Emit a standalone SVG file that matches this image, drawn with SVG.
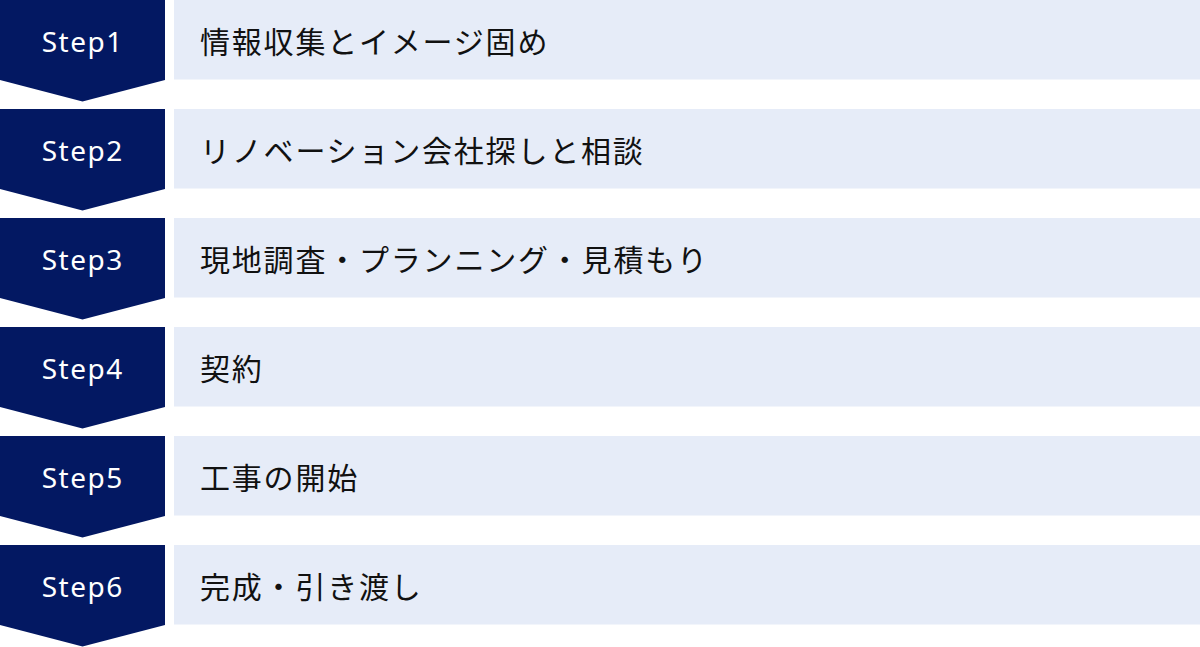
<svg xmlns="http://www.w3.org/2000/svg" width="1200" height="647" viewBox="0 0 1200 647">
<style>
.chev{fill:#031862}
.box{fill:#e6ecf8}
.lbl{font-family:"Noto Sans","DejaVu Sans",sans-serif;font-size:28px;letter-spacing:1.5px;fill:#ffffff;text-anchor:middle}
.txt{font-family:"Noto Sans CJK JP","Noto Sans",sans-serif;font-size:30px;letter-spacing:1.8px;fill:#111111}
</style>
<defs>
<path id="chevShape" d="M0,0 H165 V80 L82.5,101.5 L0,80 Z"/>
</defs>
<rect width="1200" height="647" fill="#ffffff"/>
<g id="connectors"></g>
<g id="step1" transform="translate(0,0)">
<use href="#chevShape" class="chev"/>
<rect class="box" x="174" y="0" width="1026" height="79.5"/>
<text class="lbl" x="82.75" y="51.5">Step1</text>
<text class="txt" x="200" y="53">情報収集とイメージ固め</text>
</g>
<g id="step2" transform="translate(0,109)">
<use href="#chevShape" class="chev"/>
<rect class="box" x="174" y="0" width="1026" height="79.5"/>
<text class="lbl" x="82.75" y="51.5">Step2</text>
<text class="txt" x="200" y="53">リノベーション会社探しと相談</text>
</g>
<g id="step3" transform="translate(0,218)">
<use href="#chevShape" class="chev"/>
<rect class="box" x="174" y="0" width="1026" height="79.5"/>
<text class="lbl" x="82.75" y="51.5">Step3</text>
<text class="txt" x="200" y="53">現地調査・プランニング・見積もり</text>
</g>
<g id="step4" transform="translate(0,327)">
<use href="#chevShape" class="chev"/>
<rect class="box" x="174" y="0" width="1026" height="79.5"/>
<text class="lbl" x="82.75" y="51.5">Step4</text>
<text class="txt" x="200" y="53">契約</text>
</g>
<g id="step5" transform="translate(0,436)">
<use href="#chevShape" class="chev"/>
<rect class="box" x="174" y="0" width="1026" height="79.5"/>
<text class="lbl" x="82.75" y="51.5">Step5</text>
<text class="txt" x="200" y="53">工事の開始</text>
</g>
<g id="step6" transform="translate(0,545)">
<use href="#chevShape" class="chev"/>
<rect class="box" x="174" y="0" width="1026" height="79.5"/>
<text class="lbl" x="82.75" y="51.5">Step6</text>
<text class="txt" x="200" y="53">完成・引き渡し</text>
</g>
</svg>
